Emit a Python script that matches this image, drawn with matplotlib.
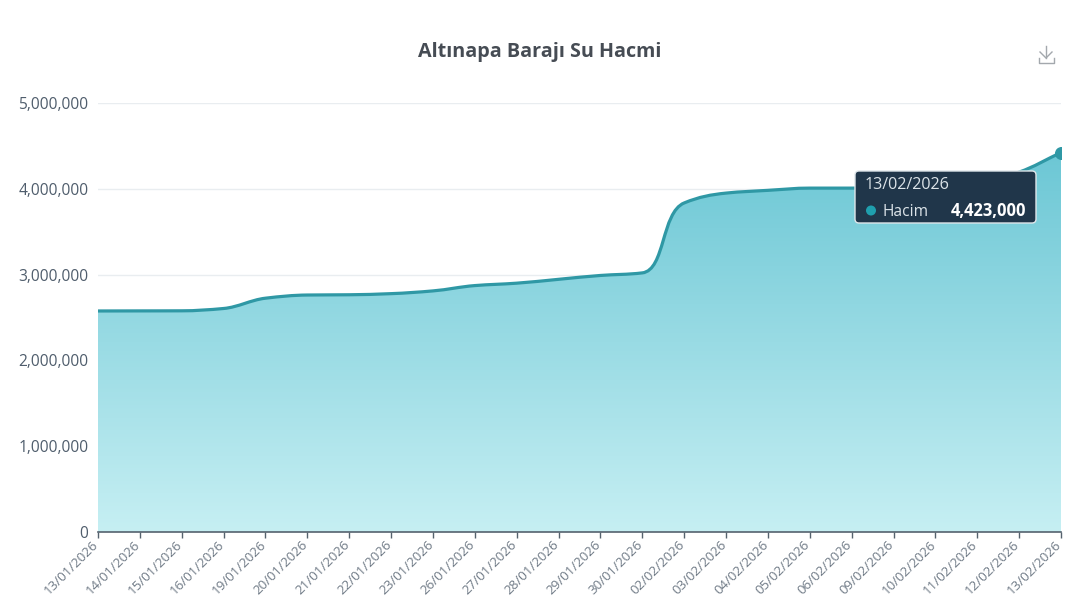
import numpy as np
import matplotlib
matplotlib.use("Agg")
import matplotlib.pyplot as plt
from matplotlib.path import Path
from matplotlib.patches import PathPatch, FancyBboxPatch, Circle
from matplotlib.colors import LinearSegmentedColormap
from matplotlib.transforms import ScaledTranslation

W, H = 1068, 609

dates = ["13/01/2026", "14/01/2026", "15/01/2026", "16/01/2026", "19/01/2026", "20/01/2026",
         "21/01/2026", "22/01/2026", "23/01/2026", "26/01/2026", "27/01/2026", "28/01/2026",
         "29/01/2026", "30/01/2026", "02/02/2026", "03/02/2026", "04/02/2026", "05/02/2026",
         "06/02/2026", "09/02/2026", "10/02/2026", "11/02/2026", "12/02/2026", "13/02/2026"]
hacim = [2576000, 2577000, 2578000, 2605000, 2725000, 2762000,
         2765000, 2778000, 2810000, 2872000, 2900000, 2945000,
         2990000, 3020000, 3835000, 3950000, 3982000, 4008000,
         4008000, 4012000, 4030000, 4065000, 4195000, 4423000]
y_ticks = [0, 1000000, 2000000, 3000000, 4000000, 5000000]

LINE = "#2f98a5"
TEXT = "#4f5d6c"
plt.rcParams["font.family"] = ["Open Sans", "DejaVu Sans"]


def smooth_path(x, y):
    """Monotone bezier through the points, with longer handles on the steep jump."""
    d = np.diff(y) / np.diff(x)
    m = np.zeros(len(y))
    for i in range(1, len(y) - 1):
        if d[i - 1] * d[i] > 0:
            m[i] = 2 * d[i - 1] * d[i] / (d[i - 1] + d[i])
    m[0], m[-1] = d[0], d[-1]
    verts = [(x[0], y[0])]
    codes = [Path.MOVETO]
    for i in range(len(y) - 1):
        k = 0.55 if abs(d[i]) > 300000 else 0.36
        h = (x[i + 1] - x[i]) * k
        verts += [(x[i] + h, y[i] + m[i] * h), (x[i + 1] - h, y[i + 1] - m[i + 1] * h), (x[i + 1], y[i + 1])]
        codes += [Path.CURVE4] * 3
    return verts, codes


fig = plt.figure(figsize=(W / 100, H / 100), dpi=100)
ax = fig.add_axes([98 / W, 1 - 532 / H, 963 / W, 429 / H])

x = np.arange(len(dates), dtype=float)
y = np.array(hacim, dtype=float)
verts, codes = smooth_path(x, y)

# gradient area, clipped to the curve
area = PathPatch(Path(verts + [(x[-1], 0), (x[0], 0), (x[0], y[0])],
                      codes + [Path.LINETO] * 3), fc="none", ec="none")
ax.add_patch(area)
cmap = LinearSegmentedColormap.from_list("area", ["#c6eff3", "#6cc7d5"])
im = ax.imshow(np.linspace(0, 1, 256).reshape(-1, 1), origin="lower", aspect="auto", cmap=cmap,
               extent=[x[0], x[-1], 0, y.max()], zorder=2)
im.set_clip_path(area)

ax.add_patch(PathPatch(Path(verts, codes), fc="none", ec=LINE, lw=2.3, zorder=3))
ax.scatter(x[-1:], y[-1:], s=70, color=LINE, zorder=4)

ax.set_xlim(0, len(dates) - 1)
ax.set_ylim(0, 5000000)
ax.set_xticks(x)
ax.set_xticklabels(dates, rotation=45, ha="right", va="top", rotation_mode="anchor",
                   fontsize=9.6, color="#6f7a86")
ax.set_yticks(y_ticks)
ax.set_yticklabels([f"{v:,}" for v in y_ticks], fontsize=11.2, color=TEXT)
ax.grid(axis="y", color="#e9edf0", lw=1)
ax.set_axisbelow(True)
for s in ["top", "right", "left"]:
    ax.spines[s].set_visible(False)
ax.spines["bottom"].set_color("#55626e")
ax.spines["bottom"].set_linewidth(1.2)
ax.spines["bottom"].set_zorder(5)
ax.tick_params(axis="x", length=4, width=1, color="#55626e", pad=3)
ax.tick_params(axis="y", length=0, pad=7)

# pull the rotated labels up and left so the last one stays on the canvas
shift = ScaledTranslation(-4.5 / 72, 2.5 / 72, fig.dpi_scale_trans)
for label in ax.get_xticklabels():
    label.set_transform(label.get_transform() + shift)

# title, tooltip and download icon in pixel coordinates
top = fig.add_axes([0, 0, 1, 1], facecolor="none")
top.set_xlim(0, W)
top.set_ylim(H, 0)
top.axis("off")

top.text(540, 52, "Altınapa Barajı Su Hacmi", ha="center", va="center",
         fontsize=14.2, fontweight="bold", color="#464c54")

top.add_patch(FancyBboxPatch((855, 171), 181, 52, boxstyle="round,pad=0,rounding_size=4",
                             fc="#20364a", ec="#dfe6ea", lw=1))
top.text(865, 185, dates[-1], ha="left", va="center", fontsize=11.6, color="#dbe3e8")
top.add_patch(Circle((871, 210.5), 5, fc="#1f9fae", ec="none"))
top.text(883, 211.5, "Hacim", ha="left", va="center", fontsize=11.2, color="#dbe3e8")
top.text(1026, 211.5, f"{hacim[-1]:,}", ha="right", va="center", fontsize=11.9,
         fontweight="bold", color="#ffffff")

icon = "#a3a8ad"
top.plot([1046, 1046], [46, 58], color=icon, lw=1.0)
top.plot([1040, 1046, 1052], [52, 58, 52], color=icon, lw=1.0)
top.plot([1038.5, 1038.5, 1054, 1054], [58, 62.5, 62.5, 58], color=icon, lw=1.0)

fig.savefig("out.png", dpi=100, facecolor="white")
